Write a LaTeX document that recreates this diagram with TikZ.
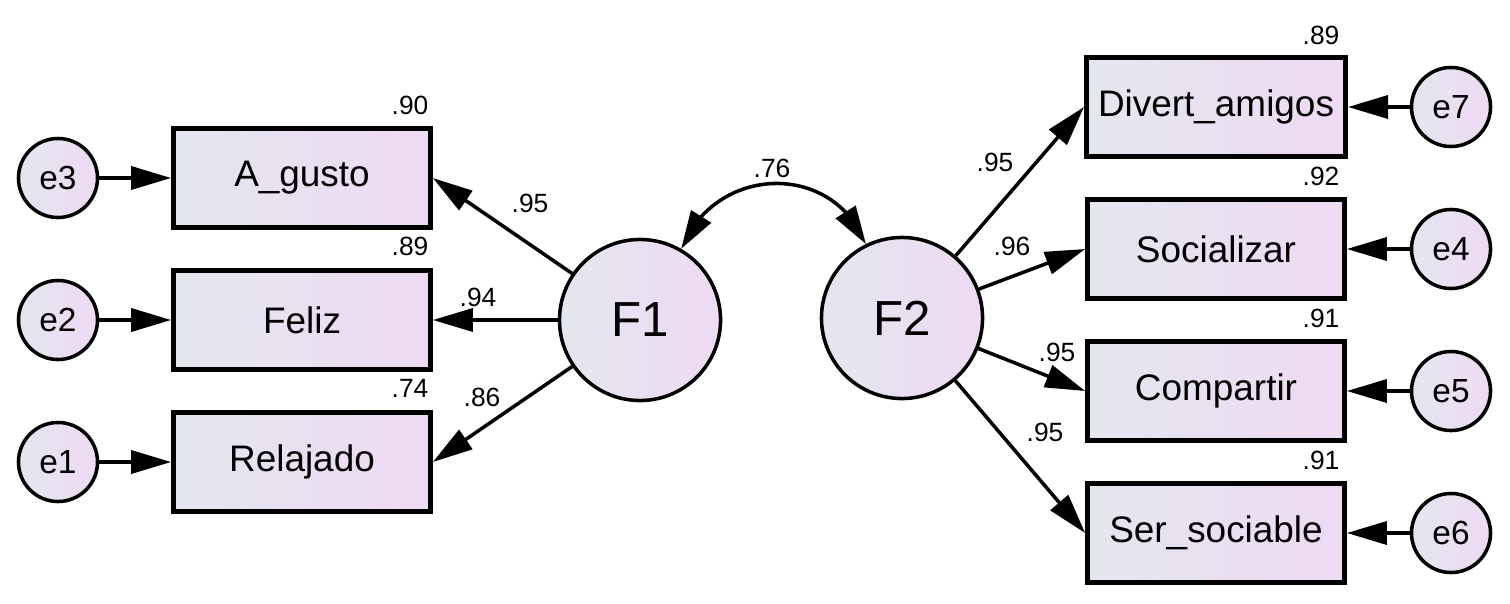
\documentclass[tikz,border=0pt]{standalone}
\usepackage{fontspec}
\setmainfont{Liberation Sans}
\usetikzlibrary{arrows.meta,bending}

\definecolor{shadeleft}{RGB}{228,230,238}
\definecolor{shaderight}{RGB}{238,218,243}

\tikzset{
	obsbox/.style={draw, line width=1.3pt, minimum width=2.57cm, minimum height=0.99cm,
		left color=shadeleft, right color=shaderight, font=\fontsize{10.5}{12}\selectfont},
	errnode/.style={draw, circle, line width=1pt, minimum size=0.79cm, inner sep=0pt,
		left color=shadeleft, right color=shaderight, font=\fontsize{9.5}{11}\selectfont},
	latent/.style={draw, circle, line width=1pt, minimum size=1.61cm, inner sep=0pt,
		left color=shadeleft, right color=shaderight, font=\fontsize{14}{16}\selectfont},
	load/.style={-{Triangle[length=4mm,width=2.3mm]}, line width=1pt},
	cov/.style={{Triangle[length=3.8mm,width=2.3mm]}-{Triangle[length=3.8mm,width=2.3mm]}, line width=1pt},
	coef/.style={inner sep=0pt, font=\fontsize{7.5}{9}\selectfont}
}

\begin{document}
\begin{tikzpicture}[x=0.01cm, y=-0.01cm]

	\useasboundingbox (0, 0) rectangle (1510, 603);

	% latent factors
	\node[latent] (F1) at (640, 320) {F1};
	\node[latent] (F2) at (902, 318) {F2};

	% indicators of F1
	\node[obsbox] (agusto) at (302, 178) {A\_gusto};
	\node[obsbox] (feliz) at (302, 320) {Feliz};
	\node[obsbox] (relajado) at (302, 462) {Relajado};

	\node[errnode] (e3) at (58, 178) {e3};
	\node[errnode] (e2) at (58, 320) {e2};
	\node[errnode] (e1) at (58, 462) {e1};

	% indicators of F2
	\node[obsbox] (divert) at (1216, 107) {Divert\_amigos};
	\node[obsbox] (social) at (1216, 249) {Socializar};
	\node[obsbox] (compartir) at (1216, 391) {Compartir};
	\node[obsbox] (sersoc) at (1216, 533) {Ser\_sociable};

	\node[errnode] (e7) at (1451, 107) {e7};
	\node[errnode] (e4) at (1451, 249) {e4};
	\node[errnode] (e5) at (1451, 391) {e5};
	\node[errnode] (e6) at (1451, 533) {e6};

	% loadings
	\draw[load] (F1) -- (agusto.east);
	\draw[load] (F1) -- (feliz.east);
	\draw[load] (F1) -- (relajado.east);

	\draw[load] (F2) -- (divert.west);
	\draw[load] (F2) -- (social.west);
	\draw[load] (F2) -- (compartir.west);
	\draw[load] (F2) -- (sersoc.west);

	% errors
	\draw[load] (e3) -- (agusto);
	\draw[load] (e2) -- (feliz);
	\draw[load] (e1) -- (relajado);

	\draw[load] (e7) -- (divert);
	\draw[load] (e4) -- (social);
	\draw[load] (e5) -- (compartir);
	\draw[load] (e6) -- (sersoc);

	% covariance
	\draw[cov] (F1.60) to[out=68, in=112, looseness=1.25] (F2.116);

	% coefficients
	\node[coef] (c76) at (772, 168) {.76};

	\node[coef] (c1) at (530, 203) {.95};
	\node[coef] (c2) at (478, 297) {.94};
	\node[coef] (c3) at (482, 397) {.86};

	\node[coef] (c4) at (995, 162) {.95};
	\node[coef] (c5) at (1012, 246) {.96};
	\node[coef] (c6) at (1057, 352) {.95};
	\node[coef] (c7) at (1045, 432) {.95};

	% squared multiple correlations
	\node[coef] (r3) at (410, 105) {.90};
	\node[coef] (r2) at (410, 246) {.89};
	\node[coef] (r1) at (410, 388) {.74};

	\node[coef] (r7) at (1321, 35) {.89};
	\node[coef] (r4) at (1321, 176) {.92};
	\node[coef] (r5) at (1321, 318) {.91};
	\node[coef] (r6) at (1321, 460) {.91};

\end{tikzpicture}
\end{document}
